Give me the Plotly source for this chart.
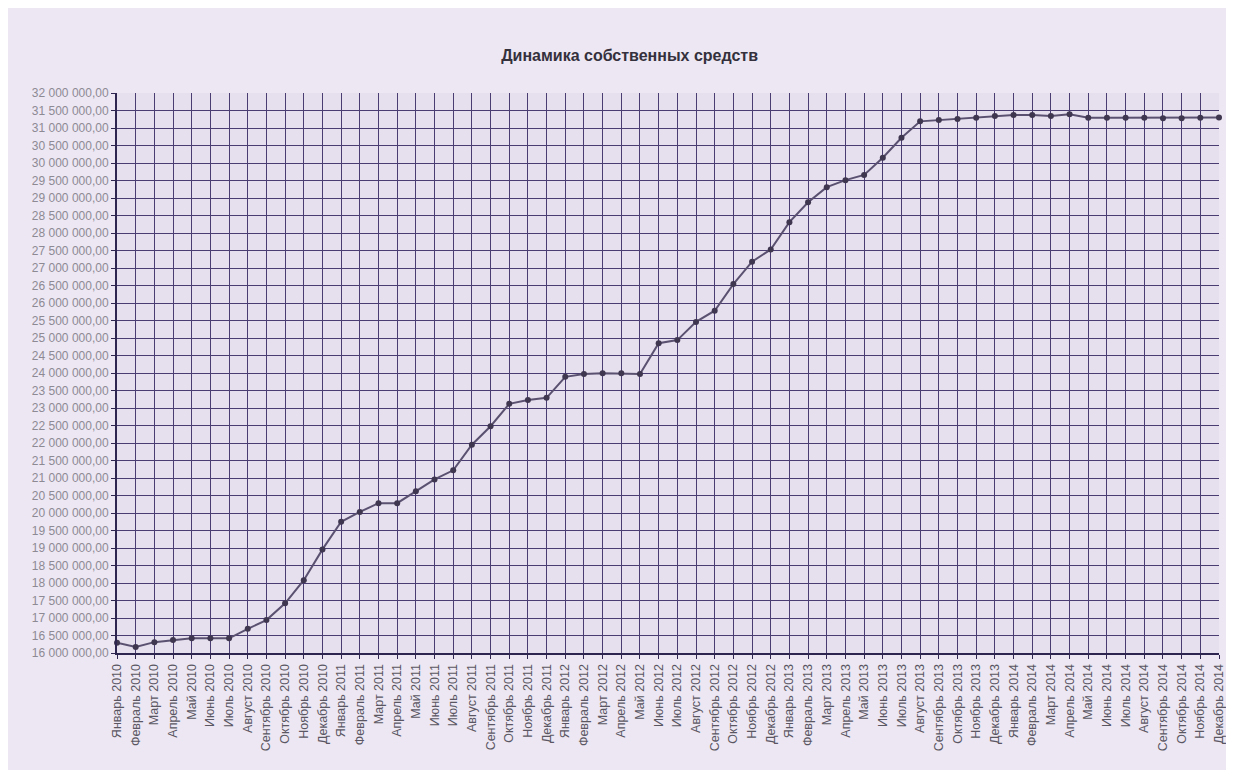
import plotly.graph_objects as go

months = ["Январь", "Февраль", "Март", "Апрель", "Май", "Июнь", "Июль",
          "Август", "Сентябрь", "Октябрь", "Ноябрь", "Декабрь"]
years = [2010, 2011, 2012, 2013, 2014]
periods = [f"{m} {y}" for y in years for m in months]

# собственные средства, руб.
equity = [
    16290000, 16170000, 16310000, 16370000, 16420000, 16420000, 16420000,
    16690000, 16940000, 17420000, 18080000, 18960000,
    19750000, 20030000, 20280000, 20280000, 20620000, 20960000, 21220000,
    21950000, 22480000, 23120000, 23230000, 23290000,
    23890000, 23970000, 23990000, 23990000, 23970000, 24850000, 24940000,
    25460000, 25780000, 26540000, 27180000, 27530000,
    28310000, 28880000, 29310000, 29510000, 29660000, 30150000, 30720000,
    31190000, 31230000, 31260000, 31290000, 31340000,
    31370000, 31370000, 31340000, 31390000, 31290000, 31290000, 31290000,
    31290000, 31280000, 31280000, 31290000, 31300000,
]

y_ticks = [16000000 + 500000 * i for i in range(33)]
y_labels = [f"{v:,.2f}".replace(",", " ").replace(".", ",") for v in y_ticks]

grid = "#4a3d72"
axis = "#2e2650"

fig = go.Figure(go.Scatter(
    x=periods,
    y=equity,
    mode="lines+markers",
    line=dict(color="#5a5170", width=2),
    marker=dict(symbol="circle", size=6, color="#3f3650"),
    cliponaxis=False,
    showlegend=False,
))

# page body keeps an 8px margin, so the figure is 8px smaller
fig.update_layout(
    width=1226, height=762,
    paper_bgcolor="#ece7f3",
    plot_bgcolor="#e5dfee",
    margin=dict(l=109, r=8, t=85, b=117),
    font=dict(family="Liberation Sans, Arial, sans-serif", color="#6a6670"),
    title=dict(text="<b>Динамика собственных средств</b>", x=0.507, xanchor="center",
               y=0.938, yanchor="middle",
               font=dict(size=16, color="#34303c")),
)
fig.update_xaxes(
    type="category", range=[0, 59], tickangle=-90,
    showgrid=True, gridcolor=grid, gridwidth=1,
    showline=True, linecolor=axis, linewidth=2,
    ticks="outside", ticklen=4, tickcolor=axis,
    tickfont=dict(size=12.5, color="#5a5662"),
)
fig.update_yaxes(
    range=[16000000, 32000000], tickvals=y_ticks, ticktext=y_labels,
    showgrid=True, gridcolor=grid, gridwidth=1,
    showline=True, linecolor=axis, linewidth=2,
    ticks="outside", ticklen=4, tickcolor=axis,
    tickfont=dict(size=12, color="#8e8a94"),
)

fig.write_html("out.html")
